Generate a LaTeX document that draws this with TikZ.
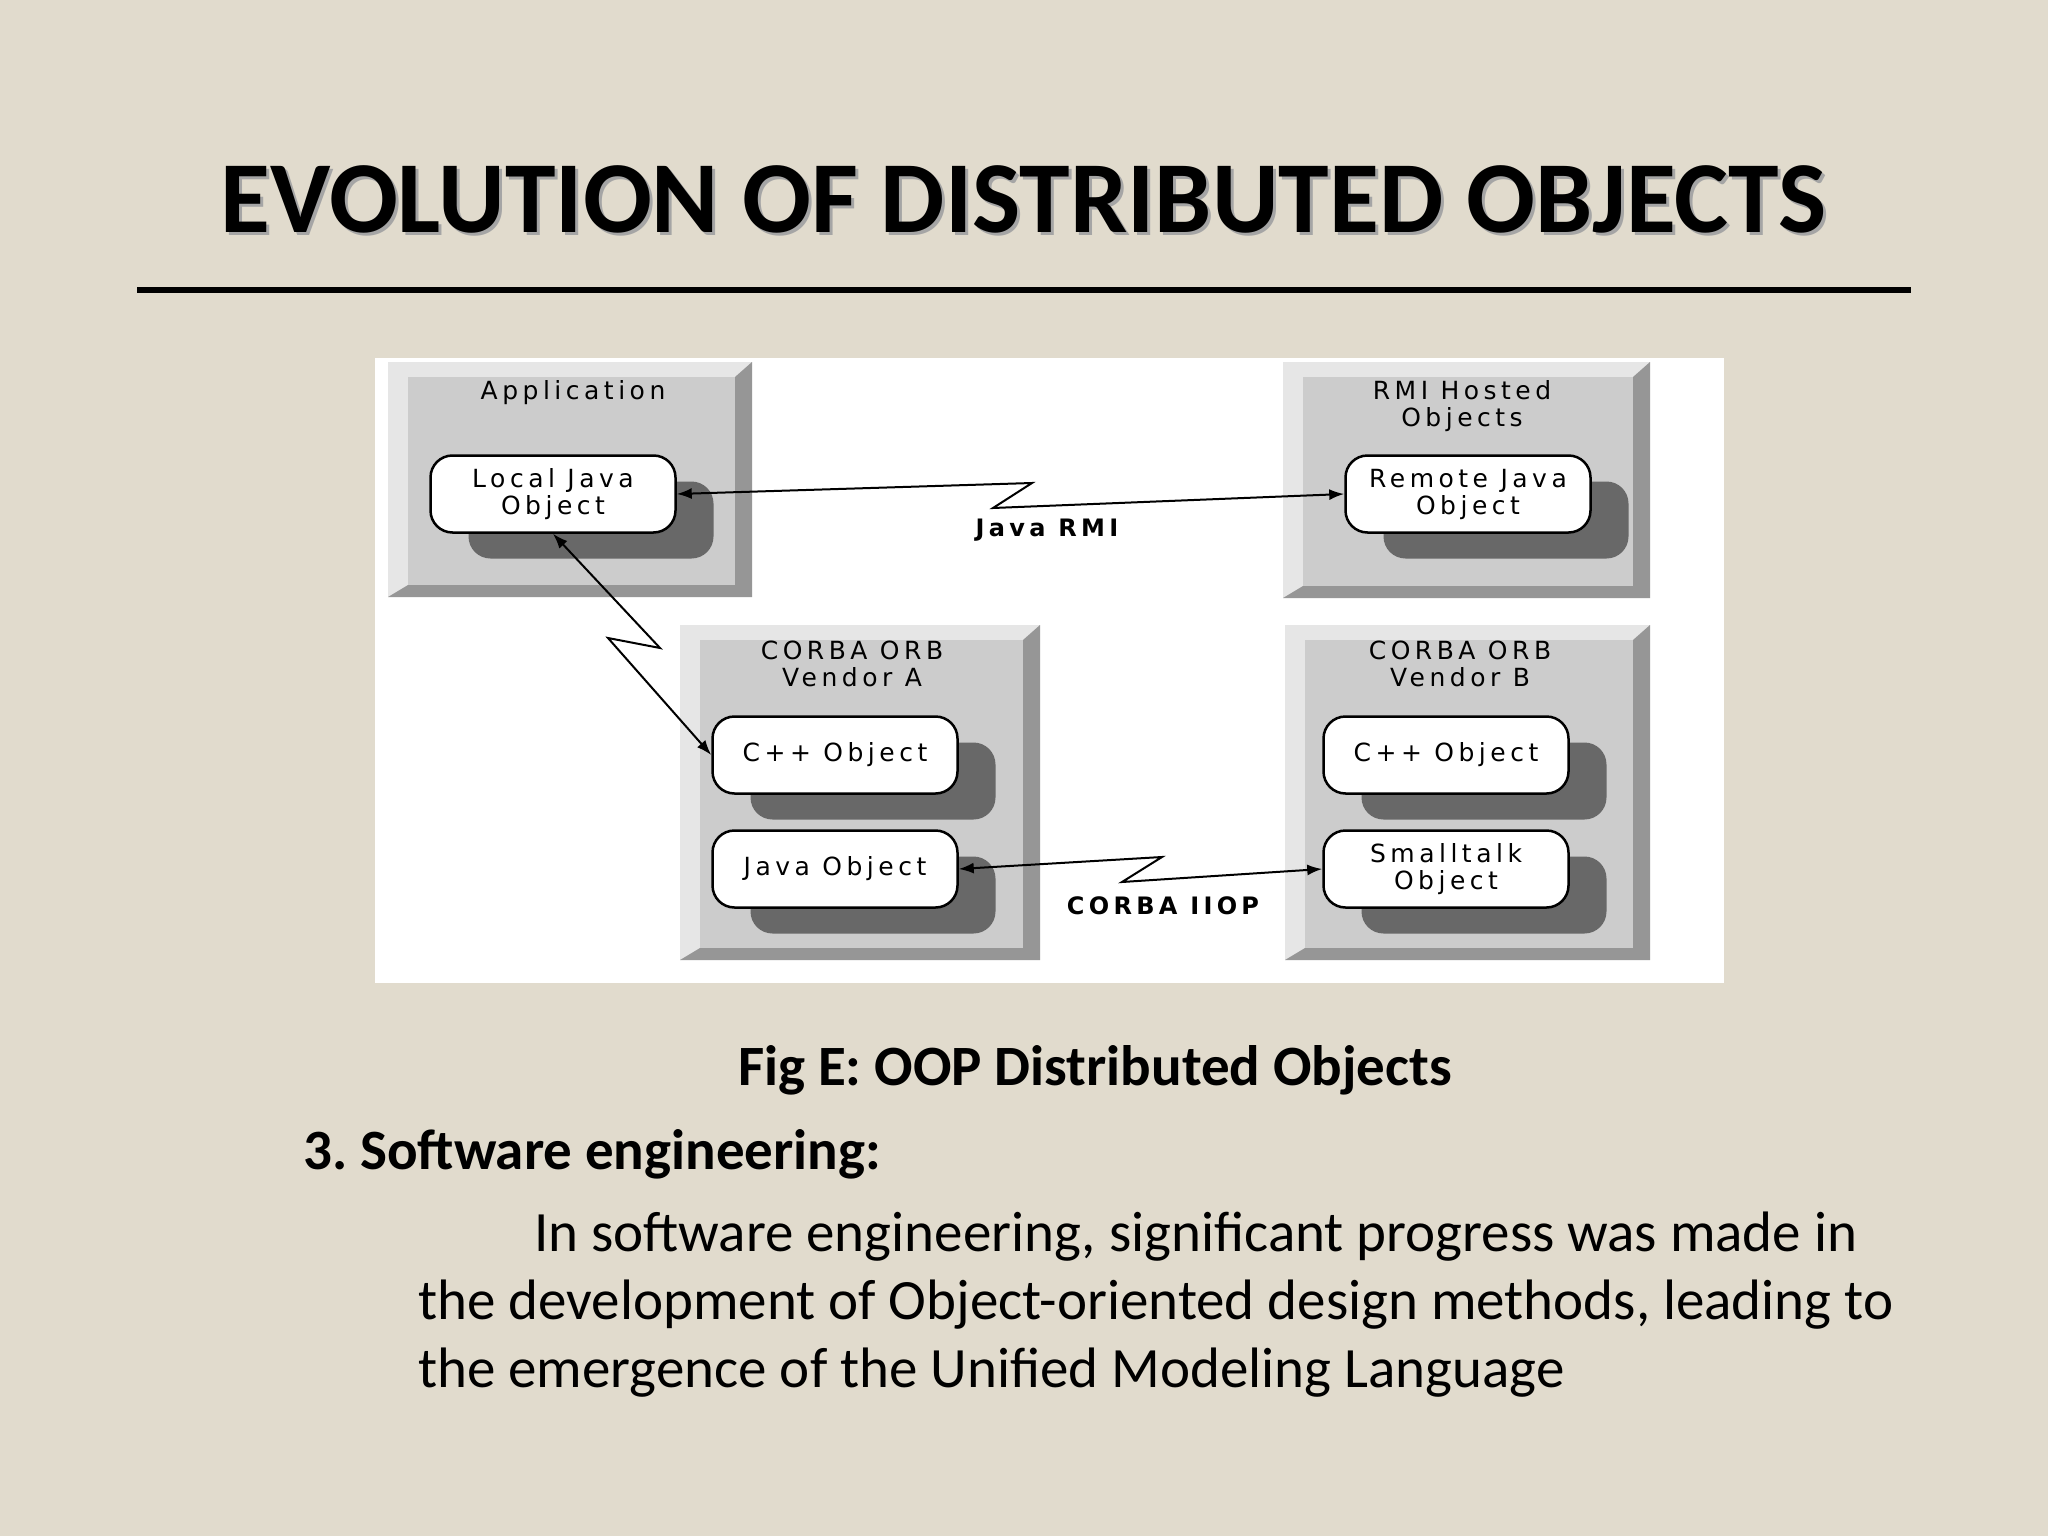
\documentclass[tikz,border=0pt]{standalone}
\usepackage{fontspec}
\setmainfont{Carlito}
\newfontfamily\pixfont[LetterSpace=18]{DejaVu Sans}
\usetikzlibrary{arrows.meta,shadows}

\definecolor{paper}{RGB}{225,219,205}
\definecolor{bevlight}{RGB}{230,230,230}
\definecolor{bevface}{RGB}{204,204,204}
\definecolor{bevdark}{RGB}{150,150,150}
\definecolor{objshadow}{RGB}{104,104,104}
\definecolor{titleshadow}{RGB}{165,165,165}

\tikzset{
  obj/.style={draw, line width=2.5pt, fill=white, rounded corners=22pt,
    minimum width=245pt, minimum height=77pt, inner sep=0pt, align=center,
    font=\pixfont\fontsize{25}{27}\selectfont,
    drop shadow={shadow xshift=38pt, shadow yshift=-26pt, fill=objshadow, opacity=1}},
  boxtitle/.style={align=center, inner sep=0pt, font=\pixfont\fontsize{25}{27}\selectfont},
  link/.style={line width=2pt, {Latex[length=15pt,width=11pt]}-{Latex[length=15pt,width=11pt]}},
  linklabel/.style={inner sep=0pt, font=\pixfont\bfseries\fontsize{24}{27}\selectfont},
  slidetext/.style={anchor=base west, inner sep=0pt, font=\fontsize{57}{68}\selectfont},
}

\begin{document}
\begin{tikzpicture}[x=1pt, y=-1pt]
% slide
\fill[paper] (0,0) rectangle (2048,1536);
\node[anchor=base, inner sep=0pt, text=titleshadow, font=\bfseries\fontsize{102}{110}\selectfont]
  (titleshd) at (1027,235) {EVOLUTION OF DISTRIBUTED OBJECTS};
\node[anchor=base, inner sep=0pt, font=\bfseries\fontsize{102}{110}\selectfont]
  (title) at (1024,232) {EVOLUTION OF DISTRIBUTED OBJECTS};
\draw[line width=6pt] (137,290) -- (1911,290);

% figure
\fill[white] (375,358) rectangle (1724,983);

% Application
\fill[bevlight] (388,362) rectangle (752,597);
\fill[bevdark] (752,362) -- (752,597) -- (388,597) -- (408,585) -- (735,585) -- (735,377) -- cycle;
\fill[bevface] (408,377) rectangle (735,585);
% RMI Hosted Objects
\fill[bevlight] (1283,362) rectangle (1650,598);
\fill[bevdark] (1650,362) -- (1650,598) -- (1283,598) -- (1303,586) -- (1633,586) -- (1633,377) -- cycle;
\fill[bevface] (1303,377) rectangle (1633,586);
% CORBA ORB Vendor A
\fill[bevlight] (680,625) rectangle (1040,960);
\fill[bevdark] (1040,625) -- (1040,960) -- (680,960) -- (700,948) -- (1023,948) -- (1023,640) -- cycle;
\fill[bevface] (700,640) rectangle (1023,948);
% CORBA ORB Vendor B
\fill[bevlight] (1285,625) rectangle (1650,960);
\fill[bevdark] (1650,625) -- (1650,960) -- (1285,960) -- (1305,948) -- (1633,948) -- (1633,640) -- cycle;
\fill[bevface] (1305,640) rectangle (1633,948);

\node[boxtitle] (apptitle) at (573,393) {Application};
\node[boxtitle] (rmititle) at (1462,406) {RMI Hosted\\Objects};
\node[boxtitle] (orbatitle) at (852,664) {CORBA ORB\\Vendor A};
\node[boxtitle] (orbbtitle) at (1460,664) {CORBA ORB\\Vendor B};

\node[obj] (ljava) at (553,494) {Local Java\\Object};
\node[obj] (rjava) at (1468,494) {Remote Java\\Object};
\node[obj] (cppa) at (835,755) {C++ Object};
\node[obj] (javaa) at (835,869) {Java Object};
\node[obj] (cppb) at (1446,755) {C++ Object};
\node[obj] (small) at (1446,869) {Smalltalk\\Object};

\coordinate (rmiz1) at (1032,483);
\coordinate (rmiz2) at (993,508);
\coordinate (orbz1) at (660,648);
\coordinate (orbz2) at (608,638);
\coordinate (iiopz1) at (1162,857);
\coordinate (iiopz2) at (1122,882);

\draw[link] (ljava.east) -- (rmiz1) -- (rmiz2) -- (rjava.west);
\draw[link] (ljava.south) -- (orbz1) -- (orbz2) -- (cppa.west);
\draw[link] (javaa.east) -- (iiopz1) -- (iiopz2) -- (small.west);

\node[linklabel] (rmilbl) at (1047,530) {Java RMI};
\node[linklabel] (iioplbl) at (1163,906) {CORBA IIOP};

% text
\node[anchor=base, inner sep=0pt, font=\bfseries\fontsize{57}{68}\selectfont]
  (caption) at (1095,1085) {Fig E: OOP Distributed Objects};
\node[slidetext, font=\bfseries\fontsize{57}{68}\selectfont] (heading) at (303,1169) {3.\ Software engineering:};
\node[slidetext] (para1) at (534,1251) {In software engineering, significant progress was made in};
\node[slidetext] (para2) at (418,1319) {the development of Object-oriented design methods, leading to};
\node[slidetext] (para3) at (418,1387) {the emergence of the Unified Modeling Language};
\end{tikzpicture}
\end{document}
